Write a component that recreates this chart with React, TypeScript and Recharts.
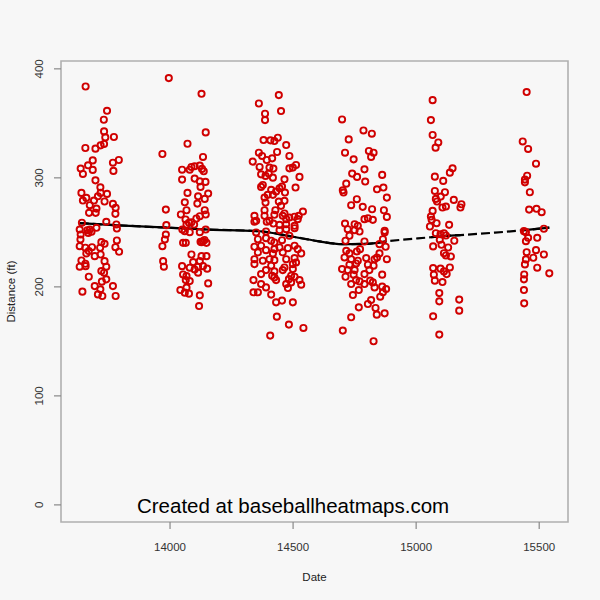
import React from 'react';
import { ComposedChart, Scatter, Line, XAxis, YAxis, ReferenceArea, ReferenceDot } from 'recharts';

// [date (days since 1970), distance (ft)] per season
const season2007: number[][] = [
  [13657,383.8],[13744,361.5],[13731,353.3],[13732,342.6],[13772,337.5],[13737,337.1],[13732,331.1],[13718,329.8],
  [13697,326.8],[13656,327.4],[13792,316.4],[13768,313.9],[13686,316],[13667,311.5],[13637,308.5],[13686,307.3],
  [13646,303.6],[13770,306.4],[13697,297.7],[13717,291.3],[13640,286.2],[13718,286.2],[13744,285.3],[13707,283.1],
  [13660,281.6],[13646,279.2],[13691,279.2],[13734,278.3],[13674,274.9],[13768,276.1],[13701,271.8],[13779,272.5],
  [13671,267.9],[13778,267],[13698,267.9],[13642,258.8],[13741,259.7],[13782,257.2],[13633,252.6],[13674,252.6],
  [13681,250.5],[13701,254.2],[13784,253.5],[13664,252],[13668,249.5],[13637,248],[13636,243.5],[13721,241],
  [13734,239.5],[13784,242.6],[13633,237.3],[13656,235.9],[13683,236.4],[13716,235.9],[13778,236.4],[13793,232.2],
  [13670,232.8],[13660,230.7],[13718,229.7],[13694,228.2],[13640,224.2],[13734,223.6],[13656,221.2],[13633,218.5],
  [13657,219],[13741,218.5],[13721,214.5],[13732,213],[13670,209.3],[13741,206.9],[13723,204.8],[13768,200.7],
  [13694,200.7],[13717,197.7],[13644,195.6],[13707,193.1],[13725,191.6],[13779,191.6],
];
const season2008: number[][] = [
  [13995,391.5],[14128,377.1],[14145,341.7],[14071,331.3],[13969,321.9],[14134,319.2],[14087,310],[14100,310.6],
  [14121,311.2],[14130,308.2],[14049,307.5],[14080,307.5],[14137,306],[14049,298.4],[14100,299.3],[14121,296.8],
  [14144,296.3],[14124,291.7],[14071,286.2],[14155,285.6],[14114,283.1],[14141,280.7],[14060,277.6],[14111,276.4],
  [13983,270.9],[14067,270.3],[14141,270.3],[14044,266.4],[14121,264.8],[14145,266.4],[14063,261.8],[14107,262.7],
  [14077,258.8],[14087,259.3],[14098,257.2],[14067,257.2],[13985,256.6],[14050,252.6],[14060,251.1],[14080,250.2],
  [14121,250.2],[14145,252.6],[13983,248],[13979,243.5],[14053,240.4],[14064,240.4],[14124,241.4],[14134,241.9],
  [14148,240.4],[14128,241],[14140,243],[13969,237.3],[14087,229.7],[14128,228.2],[14148,228.2],[13972,223.6],
  [14094,222.7],[14121,223.6],[13975,218.5],[14049,219],[14080,217.6],[14100,216],[14114,218.5],[14134,219],
  [14151,216.7],[14053,211.4],[14067,209.9],[14114,213],[14064,206.2],[14080,205.3],[14155,203.2],[14067,199.3],
  [14042,197.1],[14060,194.7],[14077,193.8],[14121,192.2],[14118,182.4],
];
const season2009: number[][] = [
  [14442,375.9],[14361,368.2],[14451,361.3],[14386,358.8],[14386,353],[14380,334.7],[14408,334.4],[14424,333.8],
  [14438,336.8],[14472,330.1],[14361,323.1],[14435,323.7],[14374,320.1],[14485,320.1],[14336,314.9],[14393,316.4],
  [14415,317.9],[14512,311.8],[14364,310],[14404,309.4],[14420,308.5],[14485,308.7],[14499,309.4],[14370,303.2],
  [14388,301.8],[14401,303.9],[14418,300.2],[14465,298.7],[14526,300.9],[14370,291.7],[14377,293.5],[14455,292],
  [14510,291.1],[14411,289],[14431,287.4],[14445,290.4],[14397,284.4],[14384,281.9],[14418,284.4],[14467,286.5],
  [14388,277.3],[14442,278.2],[14465,278.9],[14451,274.3],[14384,270.3],[14428,270.3],[14465,267.3],[14540,269.1],
  [14343,265.2],[14384,265.2],[14424,266.1],[14458,265.2],[14485,263.6],[14506,264.3],[14523,265.2],[14350,260.6],
  [14404,260.6],[14472,262.1],[14343,259.7],[14393,259.7],[14420,258.1],[14445,256.9],[14472,257.5],[14506,256],
  [14519,262.1],[14350,249.9],[14390,250.8],[14445,252],[14472,252.9],[14506,253.8],[14357,243.7],[14390,244.7],
  [14411,242.3],[14424,240.7],[14455,242.8],[14485,246.9],[14343,236.8],[14370,237.7],[14390,233.7],[14424,234.6],
  [14445,236.1],[14479,235.5],[14506,237.7],[14519,234.6],[14357,231.6],[14418,230.7],[14458,231.6],[14533,230.7],
  [14343,225.4],[14377,224],[14404,225.4],[14424,224.5],[14472,225.4],[14506,226.4],[14343,220.9],[14411,219.4],
  [14499,220.9],[14512,222.4],[14465,217.8],[14390,215.4],[14424,214.2],[14458,215.4],[14499,216.3],[14370,211.7],
  [14415,210.2],[14492,210.2],[14506,209.3],[14339,206.2],[14424,208.7],[14431,206.2],[14483,207.1],[14526,206.2],
  [14370,202.6],[14390,199.5],[14472,202.6],[14492,204.1],[14533,202],[14479,198.9],[14339,195],[14357,195],
  [14411,192.9],[14431,185.8],[14455,187.4],[14499,185.8],[14434,172.7],[14483,165.4],[14542,162.3],[14407,155.3],
];
const season2010: number[][] = [
  [14699,353.6],[14786,343.5],[14820,340.5],[14726,335.3],[14711,323.1],[14746,317],[14808,324.7],[14827,323.1],
  [14817,319.2],[14790,307.8],[14740,303.9],[14760,300.9],[14862,302.7],[14716,294.7],[14793,296.6],[14702,288.6],
  [14705,286.5],[14841,289.5],[14867,291.1],[14881,281.9],[14759,280.4],[14736,274.9],[14783,273.4],[14821,271.2],
  [14869,270.3],[14881,264.2],[14711,258.1],[14790,262.1],[14804,263],[14824,261.5],[14750,257.5],[14763,256],
  [14722,252.9],[14872,251.4],[14750,252],[14770,250.8],[14872,249.9],[14713,242.3],[14729,246.9],[14790,241.6],
  [14851,239.2],[14865,243.7],[14876,236.8],[14716,233.1],[14729,230.7],[14759,232.5],[14772,234.6],[14851,230.7],
  [14709,227],[14736,225.4],[14763,224],[14797,226.4],[14831,225.4],[14841,227],[14881,225.4],[14729,220.3],
  [14756,221.5],[14804,220.3],[14827,219.4],[14699,216.3],[14722,215.4],[14750,215.4],[14810,215.4],[14713,209.3],
  [14746,211.2],[14790,211.7],[14862,211.2],[14756,206.2],[14770,205],[14813,205.7],[14790,202.6],[14824,204.1],
  [14736,202.6],[14831,199.5],[14862,200.2],[14878,198],[14767,197.1],[14865,195],[14743,192.5],[14854,191],
  [14817,187.9],[14804,184.3],[14767,181.2],[14835,180.6],[14840,174.5],[14872,175.7],[14736,172.1],[14702,159.9],
  [14827,150.1],
];
const season2011: number[][] = [
  [15067,371.3],[15060,353],[15067,339.3],[15090,332.5],[15079,327.7],[15148,308.7],[15137,304.8],[15076,301.1],
  [15110,297.2],[15076,288],[15117,286.8],[15100,282.8],[15080,280.7],[15085,278.3],[15153,279.8],[15184,275.8],
  [15180,272.8],[15107,272.8],[15121,273.7],[15067,269.7],[15060,264.5],[15063,261.5],[15083,258.4],[15056,255.4],
  [15134,256.9],[15080,249.2],[15099,248.3],[15113,249.2],[15121,247.1],[15096,243.2],[15155,242.3],[15069,237.1],
  [15103,238.6],[15130,236.1],[15113,230.9],[15121,228.8],[15141,227.9],[15069,217.2],[15099,216.7],[15113,214.2],
  [15137,217.8],[15072,211.2],[15124,211.7],[15076,205.7],[15107,204.4],[15094,194.3],[15094,186.7],[15175,188.3],
  [15175,178.2],[15069,173],[15094,156.2],
];
const season2012: number[][] = [
  [15449,378.7],[15433,333.4],[15455,326.5],[15487,313],[15451,302],[15442,298.4],[15442,295.9],[15462,286.8],
  [15459,270.9],[15489,271.6],[15510,268.5],[15438,251.1],[15446,250.2],[15519,253.3],[15455,245],[15492,245],
  [15446,241.9],[15449,231.8],[15487,233.7],[15519,229.7],[15476,226.7],[15446,225.2],[15442,220.6],[15492,217.6],
  [15541,212.4],[15439,211.4],[15438,206.9],[15438,197.1],[15439,184.9],
];

// smoothed (lowess) curve
const lowessDates = [13633, 13790, 13970, 14160, 14365, 14500, 14600, 14700, 14800, 14880, 15060, 15110, 15180, 15310, 15440, 15541];
const lowessDist = [258.5, 256.5, 254.5, 252.6, 251, 246, 242, 239.2, 239.5, 241.8, 245.5, 246.5, 247.5, 249.6, 252, 254.3];
const solidRanges: number[][] = [[13633, 14880], [15060, 15180], [15440, 15541]];

const xTicks = [14000, 14500, 15000, 15500];
const yTicks = [0, 100, 200, 300, 400];
const xDomain = [13557, 15617];
const yDomain = [-15.7, 407.2];

const points = [season2007, season2008, season2009, season2010, season2011, season2012]
  .flat()
  .map(([x, y]) => ({ x, y }));
const curve = lowessDates.map((x, i) => ({ x, y: lowessDist[i] }));
const solidParts = solidRanges.map(([a, b]) => curve.filter((p) => p.x >= a && p.x <= b));

const FONT = '"Liberation Sans", Arial, Helvetica, sans-serif';
const RED = '#d00000';

const Ring = (p: any) => (
  <circle cx={p.cx} cy={p.cy} r={3.1} fill="none" stroke={RED} strokeWidth={1.9} />
);

const XTick = (p: any) => (
  <text x={p.x} y={p.y + 20} textAnchor="middle" fontSize={11.5} fill="#333" fontFamily={FONT}>
    {p.payload.value}
  </text>
);

const YTick = (p: any) => {
  const x = p.x - 8.5;
  return (
    <text x={x} y={p.y} textAnchor="middle" fontSize={11.5} fill="#333" fontFamily={FONT}
      transform={`rotate(-90, ${x}, ${p.y})`}>
      {p.payload.value}
    </text>
  );
};

export default function App() {
  return (
    <div style={{ position: 'absolute', left: 0, top: 0, width: 600, height: 600, background: '#f7f7f7' }}>
      <ComposedChart width={600} height={600} margin={{ top: 61, right: 32, left: 0, bottom: 0 }}>
        <XAxis
          dataKey="x"
          type="number"
          domain={xDomain}
          allowDataOverflow
          ticks={xTicks}
          height={78}
          tickSize={7}
          axisLine={false}
          tickLine={{ stroke: '#888', strokeWidth: 1.2 }}
          tick={<XTick />}
          label={{
            content: () => (
              <text x={314.5} y={581} textAnchor="middle" fontSize={11.5} fill="#222" fontFamily={FONT}>Date</text>
            ),
          }}
        />
        <YAxis
          dataKey="y"
          type="number"
          domain={yDomain}
          allowDataOverflow
          ticks={yTicks}
          width={61}
          tickSize={7}
          axisLine={false}
          tickLine={{ stroke: '#888', strokeWidth: 1.2 }}
          tick={<YTick />}
          label={{
            content: () => (
              <text x={15} y={291.5} textAnchor="middle" fontSize={11.5} fill="#222" fontFamily={FONT}
                transform="rotate(-90, 15, 291.5)">Distance (ft)</text>
            ),
          }}
        />
        <Scatter data={points} dataKey="y" shape={<Ring />} isAnimationActive={false} />
        <Line data={curve} dataKey="y" type="monotone" stroke="#000" strokeWidth={2.2} dot={false}
          strokeDasharray="9 4" isAnimationActive={false} />
        {solidParts.map((part, i) => (
          <Line key={i} data={part} dataKey="y" type="monotone" stroke="#000" strokeWidth={2.2} dot={false}
            isAnimationActive={false} />
        ))}
        <ReferenceArea x1={xDomain[0]} x2={xDomain[1]} y1={yDomain[0]} y2={yDomain[1]} fill="none"
          stroke="#b0b0b0" strokeWidth={1.6} ifOverflow="visible" />
        <ReferenceDot x={14500} y={0} r={0} ifOverflow="visible"
          shape={(p: any) => (
            <text x={p.cx} y={p.cy + 8} textAnchor="middle" fontSize={20.5} fill="#000" fontFamily={FONT}>
              Created at baseballheatmaps.com
            </text>
          )}
        />
      </ComposedChart>
    </div>
  );
}
